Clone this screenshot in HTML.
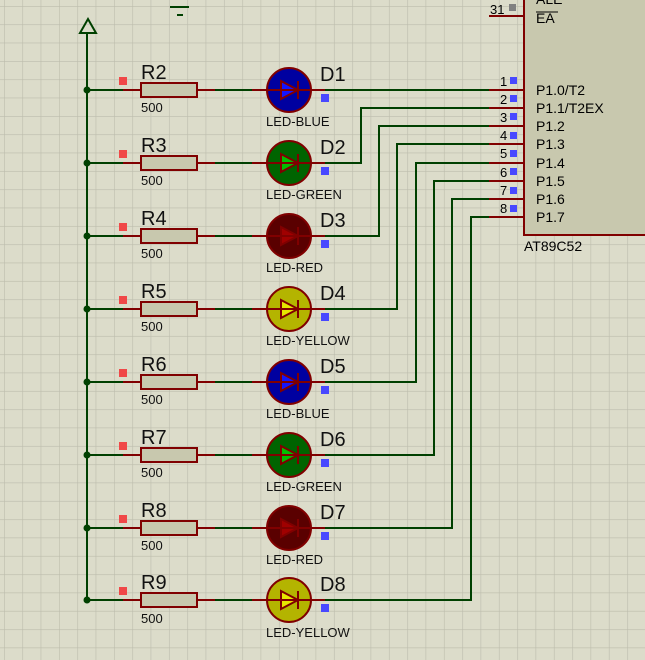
<!DOCTYPE html>
<html><head><meta charset="utf-8"><style>
html,body{margin:0;padding:0;width:645px;height:660px;overflow:hidden;background:#dcdcca}
svg{display:block}
text{font-family:"Liberation Sans",sans-serif}
</style></head><body>
<svg width="645" height="660" viewBox="0 0 645 660" xmlns="http://www.w3.org/2000/svg">
<defs>
<pattern id="g" x="4" y="6" width="18.33" height="18.33" patternUnits="userSpaceOnUse">
<path d="M0 0H18.33M0 0V18.33" stroke="#bcbcac" stroke-width="1.2" fill="none"/>
</pattern>
<g id="res">
<line x1="123" y1="0" x2="141" y2="0" stroke="#800000" stroke-width="2"/>
<rect x="141" y="-7" width="56" height="14" fill="#c8c8ae" stroke="#800000" stroke-width="2"/>
<line x1="197" y1="0" x2="215" y2="0" stroke="#800000" stroke-width="2"/>
<line x1="215" y1="0" x2="252" y2="0" stroke="#004000" stroke-width="2"/>
<line x1="252" y1="0" x2="325" y2="0" stroke="#800000" stroke-width="2"/>
<circle cx="87" cy="0" r="3.5" fill="#004000"/>
<rect x="119" y="-13" width="8" height="8" fill="#f04848"/>
<rect x="321" y="4" width="8" height="8" fill="#4848ff"/>
</g>
</defs>
<rect width="645" height="660" fill="url(#g)"/>
<line x1="170" y1="7" x2="189" y2="7" stroke="#004000" stroke-width="2"/>
<line x1="177" y1="15" x2="183" y2="15" stroke="#004000" stroke-width="2"/>
<polygon points="88,19 80,33 96,33" fill="none" stroke="#004000" stroke-width="2"/>
<line x1="87" y1="33" x2="87" y2="600" stroke="#004000" stroke-width="2"/>
<rect x="524" y="-5" width="130" height="240" fill="#c8c8ae" stroke="#800000" stroke-width="2"/>
<text x="536" y="4" font-size="14" fill="#000">ALE</text>
<line x1="536" y1="12" x2="558" y2="12" stroke="#000" stroke-width="1"/>
<text x="536" y="23" font-size="14" fill="#000">EA</text>
<line x1="489" y1="16" x2="524" y2="16" stroke="#800000" stroke-width="2"/>
<text x="490" y="14" font-size="13">31</text>
<rect x="509" y="4" width="7" height="7" fill="#808080"/>
<text x="524" y="251" font-size="14">AT89C52</text>
<g font-size="14">
<text x="536" y="95">P1.0/T2</text><text x="536" y="113">P1.1/T2EX</text>
<text x="536" y="131">P1.2</text><text x="536" y="149">P1.3</text>
<text x="536" y="168">P1.4</text><text x="536" y="186">P1.5</text>
<text x="536" y="204">P1.6</text><text x="536" y="222">P1.7</text>
</g>
<g font-size="13">
<text x="500" y="86">1</text><text x="500" y="104">2</text><text x="500" y="122">3</text><text x="500" y="140">4</text>
<text x="500" y="158">5</text><text x="500" y="177">6</text><text x="500" y="195">7</text><text x="500" y="213">8</text>
</g>
<g fill="#4848ff">
<rect x="510" y="77" width="7" height="7"/><rect x="510" y="95" width="7" height="7"/><rect x="510" y="113" width="7" height="7"/><rect x="510" y="132" width="7" height="7"/>
<rect x="510" y="150" width="7" height="7"/><rect x="510" y="168" width="7" height="7"/><rect x="510" y="187" width="7" height="7"/><rect x="510" y="205" width="7" height="7"/>
</g>
<g stroke="#800000" stroke-width="2">
<line x1="489" y1="90" x2="524" y2="90"/><line x1="489" y1="108" x2="524" y2="108"/><line x1="489" y1="126" x2="524" y2="126"/><line x1="489" y1="144" x2="524" y2="144"/>
<line x1="489" y1="163" x2="524" y2="163"/><line x1="489" y1="181" x2="524" y2="181"/><line x1="489" y1="199" x2="524" y2="199"/><line x1="489" y1="217" x2="524" y2="217"/>
</g>
<g stroke="#004000" stroke-width="2" fill="none">
<polyline points="325,90 489,90"/>
<polyline points="325,163 361,163 361,108 489,108"/>
<polyline points="325,236 379,236 379,126 489,126"/>
<polyline points="325,309 397,309 397,144 489,144"/>
<polyline points="325,382 416,382 416,163 489,163"/>
<polyline points="325,455 434,455 434,181 489,181"/>
<polyline points="325,528 452,528 452,199 489,199"/>
<polyline points="325,600 471,600 471,217 489,217"/>
<line x1="87" y1="90" x2="123" y2="90"/><line x1="87" y1="163" x2="123" y2="163"/><line x1="87" y1="236" x2="123" y2="236"/><line x1="87" y1="309" x2="123" y2="309"/>
<line x1="87" y1="382" x2="123" y2="382"/><line x1="87" y1="455" x2="123" y2="455"/><line x1="87" y1="528" x2="123" y2="528"/><line x1="87" y1="600" x2="123" y2="600"/>
</g>
<g>
<use href="#res" y="90"/><use href="#res" y="163"/><use href="#res" y="236"/><use href="#res" y="309"/>
<use href="#res" y="382"/><use href="#res" y="455"/><use href="#res" y="528"/><use href="#res" y="600"/>
</g>
<g stroke="#800000" stroke-width="2">
<circle cx="289" cy="90" r="22" fill="#0000a0"/><polygon points="281,81 281,99 298,90" fill="#1414ff"/>
<circle cx="289" cy="163" r="22" fill="#006400"/><polygon points="281,154 281,172 298,163" fill="#00c000"/>
<circle cx="289" cy="236" r="22" fill="#5a0000"/><polygon points="281,227 281,245 298,236" fill="#a00000"/>
<circle cx="289" cy="309" r="22" fill="#b4b400"/><polygon points="281,300 281,318 298,309" fill="#e6e600"/>
<circle cx="289" cy="382" r="22" fill="#0000a0"/><polygon points="281,373 281,391 298,382" fill="#1414ff"/>
<circle cx="289" cy="455" r="22" fill="#006400"/><polygon points="281,446 281,464 298,455" fill="#00c000"/>
<circle cx="289" cy="528" r="22" fill="#5a0000"/><polygon points="281,519 281,537 298,528" fill="#a00000"/>
<circle cx="289" cy="600" r="22" fill="#b4b400"/><polygon points="281,591 281,609 298,600" fill="#e6e600"/>
<g fill="none">
<line x1="267" y1="90" x2="311" y2="90"/><line x1="298" y1="81" x2="298" y2="99"/>
<line x1="267" y1="163" x2="311" y2="163"/><line x1="298" y1="154" x2="298" y2="172"/>
<line x1="267" y1="236" x2="311" y2="236"/><line x1="298" y1="227" x2="298" y2="245"/>
<line x1="267" y1="309" x2="311" y2="309"/><line x1="298" y1="300" x2="298" y2="318"/>
<line x1="267" y1="382" x2="311" y2="382"/><line x1="298" y1="373" x2="298" y2="391"/>
<line x1="267" y1="455" x2="311" y2="455"/><line x1="298" y1="446" x2="298" y2="464"/>
<line x1="267" y1="528" x2="311" y2="528"/><line x1="298" y1="519" x2="298" y2="537"/>
<line x1="267" y1="600" x2="311" y2="600"/><line x1="298" y1="591" x2="298" y2="609"/>
</g>
</g>
<g font-size="20" fill="#111">
<text x="141" y="79">R2</text><text x="141" y="152">R3</text><text x="141" y="225">R4</text><text x="141" y="298">R5</text>
<text x="141" y="371">R6</text><text x="141" y="444">R7</text><text x="141" y="517">R8</text><text x="141" y="589">R9</text>
<text x="320" y="81">D1</text><text x="320" y="154">D2</text><text x="320" y="227">D3</text><text x="320" y="300">D4</text>
<text x="320" y="373">D5</text><text x="320" y="446">D6</text><text x="320" y="519">D7</text><text x="320" y="591">D8</text>
</g>
<g font-size="13" fill="#111">
<text x="141" y="112">500</text><text x="141" y="185">500</text><text x="141" y="258">500</text><text x="141" y="331">500</text>
<text x="141" y="404">500</text><text x="141" y="477">500</text><text x="141" y="550">500</text><text x="141" y="623">500</text>
<text x="266" y="126">LED-BLUE</text><text x="266" y="199">LED-GREEN</text><text x="266" y="272">LED-RED</text><text x="266" y="345">LED-YELLOW</text>
<text x="266" y="418">LED-BLUE</text><text x="266" y="491">LED-GREEN</text><text x="266" y="564">LED-RED</text><text x="266" y="637">LED-YELLOW</text>
</g>
</svg>
</body></html>
